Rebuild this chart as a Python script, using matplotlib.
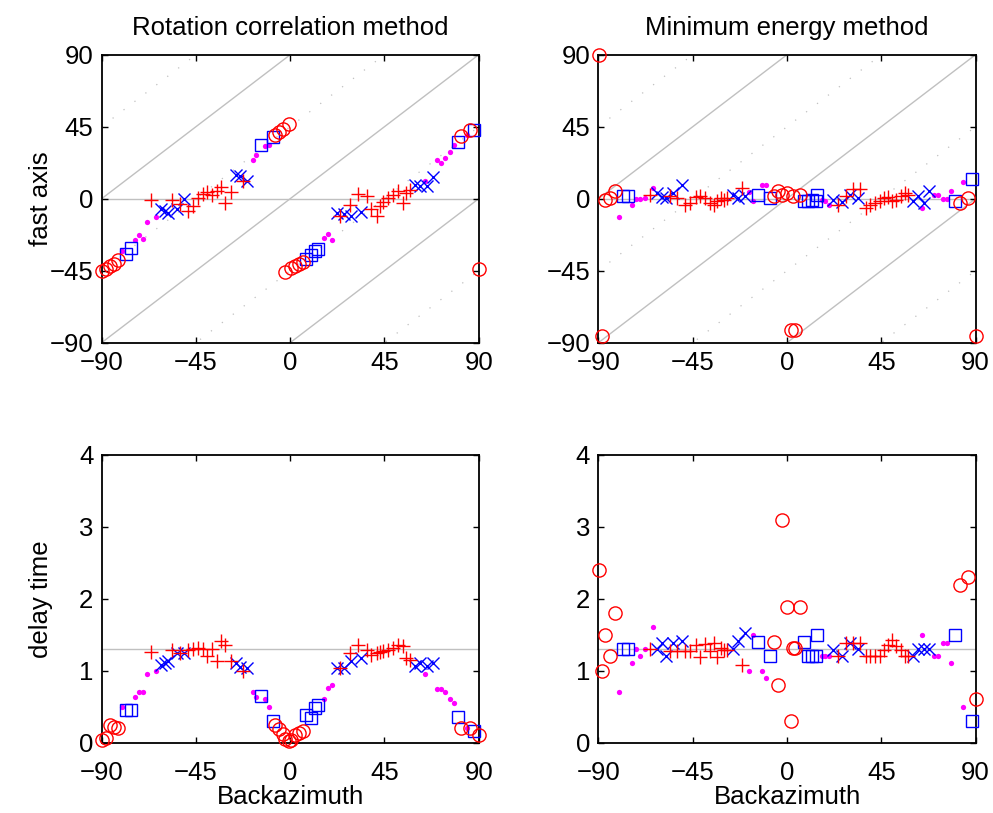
import matplotlib
matplotlib.use("Agg")
import matplotlib.pyplot as plt
import numpy as np

plt.rcParams["font.family"] = ["Liberation Sans", "DejaVu Sans"]

# ---- Rotation correlation method ----
# nulls (cercles rouges)
rc_null_baz = [-89.7, -87.8, -85.8, -83.9, -82.2, -7.4, -5.3, -3.4, -2.6, -0.6, 0.2, 2.1, 4.2, 6.1, 81.7, 85.9, 90.3]
rc_null_phi = [-45.4, -43.9, -42.3, -40.6, -38.5, 39.8, 41.9, 43.6, -45.6, 46.4, -43.6, -41.9, -41.1, -39.8, 39.4, 43.1, -44.0]
rc_null_dt = [0.04, 0.06, 0.24, 0.22, 0.20, 0.25, 0.19, 0.12, 0.05, 0.03, 0.04, 0.11, 0.14, 0.16, 0.20, 0.20, 0.10]
# carres bleus
rc_sq_baz = [-78.2, -76.0, -14.1, -8.2, 7.7, 9.8, 11.7, 13.5, 80.1, 87.6]
rc_sq_phi = [-34.4, -30.8, 33.3, 38.5, -37.8, -35.1, -33.0, -31.2, 35.2, 43.1]
rc_sq_dt = [0.45, 0.45, 0.65, 0.30, 0.39, 0.34, 0.48, 0.52, 0.36, 0.16]
# croix bleues
rc_x_baz = [-61.8, -60.0, -58.3, -54.0, -50.8, -25.7, -24.0, -20.8, 22.3, 25.5, 29.2, 33.6, 59.8, 62.0, 65.4, 68.0]
rc_x_phi = [-6.4, -7.5, -8.9, -6.4, -0.2, 14.6, 14.0, 11.2, -8.9, -9.4, -11.1, -8.6, 8.8, 8.1, 7.7, 13.3]
rc_x_dt = [1.08, 1.10, 1.13, 1.25, 1.25, 1.11, 1.05, 1.04, 1.04, 1.04, 1.13, 1.18, 1.06, 1.10, 1.07, 1.11]
# plus rouges
rc_plus_baz = [-66.3, -56.5, -52.8, -48.8, -46.2, -44.0, -41.6, -39.8, -37.5, -35.0, -32.8, -31.0, -28.1, -22.3,
               23.6, 28.4, 32.4, 36.7, 38.5, 41.6, 42.7, 44.5, 46.7, 49.1, 51.5, 53.9, 55.5, 57.4]
rc_plus_phi = [-1.0, -0.6, -3.5, -7.9, -4.8, 0.4, 3.1, 3.9, 2.5, 4.5, 7.3, -2.7, 3.9, 10.8,
               -11.1, -3.8, 3.1, 1.4, -6.4, -11.1, -4.8, -2.3, 0.4, 2.5, 4.6, -2.7, 3.5, 5.6]
rc_plus_dt = [1.26, 1.29, 1.25, 1.29, 1.30, 1.31, 1.30, 1.20, 1.30, 1.14, 1.41, 1.36, 1.14, 0.99,
              1.04, 1.25, 1.36, 1.29, 1.22, 1.25, 1.26, 1.27, 1.29, 1.31, 1.36, 1.34, 1.18, 1.15]
# points magenta
rc_dot_baz = [-80.1, -74.2, -72.2, -70.3, -68.2, -64.2, -18.0, -16.1, -12.2, -10.1,
              16.1, 18.0, 19.9, 64.2, 70.1, 72.2, 74.1, 76.2, 78.1, 84.2]
rc_dot_phi = [-32.9, -26.0, -22.5, -25.0, -14.8, -11.7, 24.4, 27.1, 33.1, 33.3,
              -24.6, -21.9, -26.1, 11.3, 24.4, 22.3, 25.4, 28.9, 33.8, 40.0]
rc_dot_dt = [0.50, 0.64, 0.70, 0.70, 0.95, 1.00, 0.70, 0.64, 0.60, 0.50,
             0.60, 0.76, 0.80, 0.95, 0.75, 0.75, 0.70, 0.60, 0.55, 0.20]

# ---- Minimum energy method ----
me_null_baz = [-89.7, -88.3, -86.9, -84.5, -82.1, -6.3, -4.5, -2.3, -0.1, 1.9, 3.0, 3.9, 6.2, 82.6, 86.6, 90.4]
me_null_phi = [90.0, -86.0, -0.6, 0.4, 4.6, 1.5, 4.6, 2.5, 3.5, -82.0, 1.5, -82.0, 2.5, -2.7, 0.4, -85.6]
me_null_dt = [2.40, 0.99, 1.50, 1.20, 1.80, 1.40, 0.80, 3.10, 1.89, 0.30, 1.31, 1.31, 1.89, 2.19, 2.30, 0.61]
me_sq_baz = [-78.2, -75.8, -13.7, -7.9, 8.0, 10.2, 12.0, 13.7, 14.4, 80.2, 88.2]
me_sq_phi = [1.5, 1.5, 2.5, 0.4, -1.7, -1.7, -0.6, -1.2, 2.5, -1.7, 12.5]
me_sq_dt = [1.30, 1.30, 1.40, 1.20, 1.40, 1.20, 1.20, 1.20, 1.50, 1.50, 0.30]
me_x_baz = [-62.2, -59.8, -57.9, -54.3, -50.3, -25.8, -23.5, -20.1, 22.1, 26.1, 30.1, 34.0, 60.3, 62.7, 65.5, 68.0]
me_x_phi = [3.5, 1.0, 0.4, 3.5, 8.8, 2.5, 0.4, 1.5, -0.6, -2.3, 2.5, 0.4, -1.7, 1.5, -2.7, 4.6]
me_x_dt = [1.30, 1.39, 1.20, 1.39, 1.41, 1.30, 1.41, 1.52, 1.29, 1.20, 1.39, 1.30, 1.20, 1.30, 1.30, 1.30]
me_plus_baz = [-65.4, -55.9, -52.3, -48.7, -46.3, -43.5, -41.5, -39.2, -36.8, -35.0, -33.2, -31.5, -30.0, -28.8, -21.6,
               24.5, 28.0, 31.7, 34.9, 37.5, 39.8, 42.2, 44.6, 46.3, 48.2, 50.0, 52.0, 54.2, 56.3, 58.0]
me_plus_phi = [2.5, 1.5, 0.4, -3.8, -2.7, 0.8, 1.5, 0.4, -2.7, -3.8, -1.5, 0.2, -0.8, 0.2, 6.7,
               -3.8, 1.5, 6.0, 6.0, -5.8, -3.8, -2.7, -1.7, 0.4, 1.0, -1.7, -0.6, 1.5, 3.5, 2.0]
me_plus_dt = [1.30, 1.28, 1.28, 1.28, 1.28, 1.35, 1.19, 1.37, 1.28, 1.39, 1.19, 1.32, 1.29, 1.29, 1.08,
              1.20, 1.39, 1.39, 1.39, 1.20, 1.20, 1.20, 1.20, 1.29, 1.36, 1.43, 1.34, 1.29, 1.20, 1.20]
me_dot_baz = [-80.1, -74.0, -72.1, -70.0, -67.8, -64.0, -18.0, -16.1, -12.0, -10.2,
              16.6, 18.1, 20.2, 64.3, 70.4, 72.2, 74.4, 76.2, 78.4, 84.2]
me_dot_phi = [-11.7, -3.8, 0.0, 0.0, 0.4, 6.7, 4.2, -1.7, 8.3, 8.3,
              -1.0, -1.7, -3.8, -5.8, 2.1, 2.1, 0.0, 0.0, 4.6, 10.4]
me_dot_dt = [0.70, 1.10, 1.30, 1.20, 1.30, 1.60, 1.00, 1.50, 1.00, 0.90,
             1.20, 1.20, 1.20, 1.50, 1.20, 1.20, 1.39, 1.39, 1.10, 0.50]

DT_REF = 1.3
GRIS = "#c0c0c0"
TAILLE = 18.5


def fond_angle(ax):
    """Lignes grises de reference pour l'axe rapide."""
    xs = np.array([-90.0, 90.0])
    ax.axhline(0, color=GRIS, lw=1, zorder=1)
    for d in [-90, 0, 90]:
        ax.plot(xs, xs + d, color=GRIS, lw=1, zorder=1)
    for d in [-135, -45, 45, 135]:
        ax.plot(xs, xs + d, color=GRIS, lw=0.9, ls=(0, (1, 10)), zorder=1)


def points(ax, groupes):
    """Trace les cinq groupes de symboles."""
    dot, sq, xx, plus, null = groupes
    ax.plot(dot[0], dot[1], "o", color="#ff00ff", ms=3.8, mew=0, clip_on=False, zorder=3)
    ax.plot(sq[0], sq[1], "s", mfc="none", mec="#0000ff", ms=8, mew=1, clip_on=False, zorder=4)
    ax.plot(xx[0], xx[1], "x", color="#0000ff", ms=8.5, mew=1, clip_on=False, zorder=4)
    ax.plot(plus[0], plus[1], "+", color="#ff0000", ms=10, mew=1, clip_on=False, zorder=4)
    ax.plot(null[0], null[1], "o", mfc="none", mec="#ff0000", ms=9.5, mew=1, clip_on=False, zorder=5)


def habillage(ax, haut):
    ax.set_xlim(-90, 90)
    ax.set_xticks([-90, -45, 0, 45, 90])
    if haut:
        ax.set_ylim(-90, 90)
        ax.set_yticks([-90, -45, 0, 45, 90])
    else:
        ax.set_ylim(0, 4)
        ax.set_yticks([0, 1, 2, 3, 4])
    ax.tick_params(direction="in", top=True, right=True, length=4, width=1,
                   labelsize=TAILLE, pad=6)
    # les etiquettes du bas sont plus basses dans l'original
    ax.tick_params(axis="x", pad=6 if haut else 13)
    for s in ax.spines.values():
        s.set_linewidth(1.3)


fig = plt.figure(figsize=(9.93, 8.13), dpi=100)
ax_rc_phi = fig.add_axes([0.1024, 0.5785, 0.3797, 0.3542])
ax_me_phi = fig.add_axes([0.6027, 0.5785, 0.3797, 0.3542])
ax_rc_dt = fig.add_axes([0.1024, 0.0865, 0.3797, 0.3542])
ax_me_dt = fig.add_axes([0.6027, 0.0865, 0.3797, 0.3542])

# Axe rapide
fond_angle(ax_rc_phi)
points(ax_rc_phi, [(rc_dot_baz, rc_dot_phi), (rc_sq_baz, rc_sq_phi), (rc_x_baz, rc_x_phi),
                   (rc_plus_baz, rc_plus_phi), (rc_null_baz, rc_null_phi)])
fond_angle(ax_me_phi)
points(ax_me_phi, [(me_dot_baz, me_dot_phi), (me_sq_baz, me_sq_phi), (me_x_baz, me_x_phi),
                   (me_plus_baz, me_plus_phi), (me_null_baz, me_null_phi)])

# Temps de retard
ax_rc_dt.axhline(DT_REF, color=GRIS, lw=1, zorder=1)
points(ax_rc_dt, [(rc_dot_baz, rc_dot_dt), (rc_sq_baz, rc_sq_dt), (rc_x_baz, rc_x_dt),
                  (rc_plus_baz, rc_plus_dt), (rc_null_baz, rc_null_dt)])
ax_me_dt.axhline(DT_REF, color=GRIS, lw=1, zorder=1)
points(ax_me_dt, [(me_dot_baz, me_dot_dt), (me_sq_baz, me_sq_dt), (me_x_baz, me_x_dt),
                  (me_plus_baz, me_plus_dt), (me_null_baz, me_null_dt)])

for ax in [ax_rc_phi, ax_me_phi]:
    habillage(ax, True)
for ax in [ax_rc_dt, ax_me_dt]:
    habillage(ax, False)
    ax.set_xlabel("Backazimuth", fontsize=TAILLE, labelpad=0)

ax_rc_phi.set_title("Rotation correlation method", fontsize=TAILLE, pad=14)
ax_me_phi.set_title("Minimum energy method", fontsize=TAILLE, pad=14)
ax_rc_phi.set_ylabel("fast axis", fontsize=TAILLE)
ax_rc_dt.set_ylabel("delay time", fontsize=TAILLE)
ax_rc_phi.yaxis.set_label_coords(-0.13, 0.5)
ax_rc_dt.yaxis.set_label_coords(-0.13, 0.5)

fig.savefig("out.png", dpi=100)
